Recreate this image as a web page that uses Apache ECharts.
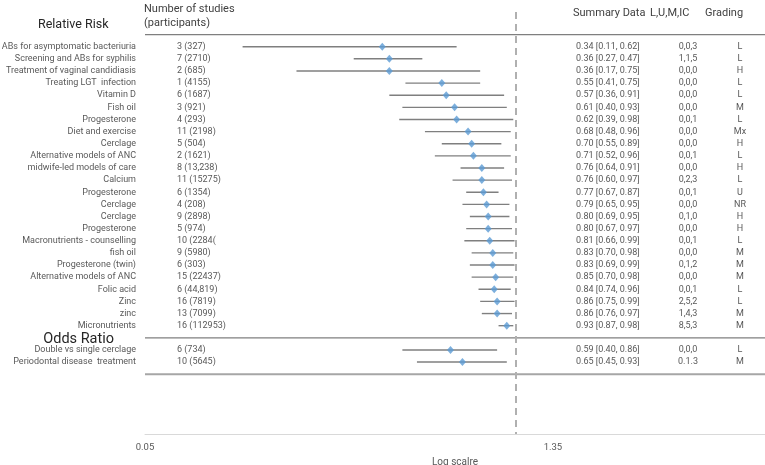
<!DOCTYPE html>
<html><head><meta charset="utf-8">
<script src="https://cdn.jsdelivr.net/npm/echarts@6/dist/echarts.min.js"></script>
<style>html,body{margin:0;padding:0;background:#fff}#c{width:765px;height:465px}</style>
</head><body><div id="c"></div>
<script>
// ---------- data ----------
const groupTitles = ['Relative Risk', 'Odds Ratio'];
const rrNames = ['ABs for asymptomatic bacteriuria','Screening and ABs for syphilis','Treatment of vaginal candidiasis','Treating LGT  infection','Vitamin D','Fish oil','Progesterone','Diet and exercise','Cerclage','Alternative models of ANC','midwife-led models of care','Calcium','Progesterone','Cerclage','Cerclage','Progesterone','Macronutrients - counselling','fish oil','Progesterone (twin)','Alternative models of ANC','Folic acid','Zinc','zinc','Micronutrients'];
const rrStudies = ['3 (327)','7 (2710)','2 (685)','1 (4155)','6 (1687)','3 (921)','4 (293)','11 (2198)','5 (504)','2 (1621)','8 (13,238)','11 (15275)','6 (1354)','4 (208)','9 (2898)','5 (974)','10 (2284(','9 (5980)','6 (303)','15 (22437)','6 (44,819)','16 (7819)','13 (7099)','16 (112953)'];
const rrEst  = [0.34,0.36,0.36,0.55,0.57,0.61,0.62,0.68,0.70,0.71,0.76,0.76,0.77,0.79,0.80,0.80,0.81,0.83,0.83,0.85,0.84,0.86,0.86,0.93];
const rrLow  = [0.11,0.27,0.17,0.41,0.36,0.40,0.39,0.48,0.55,0.52,0.64,0.60,0.67,0.65,0.69,0.67,0.66,0.70,0.69,0.70,0.74,0.75,0.76,0.87];
const rrHigh = [0.62,0.47,0.75,0.75,0.91,0.93,0.98,0.96,0.89,0.96,0.91,0.97,0.87,0.95,0.95,0.97,0.99,0.98,0.99,0.98,0.96,0.99,0.97,0.98];
const rrLUMIC = ['0,0,3','1,1,5','0,0,0','0,0,0','0,0,0','0,0,0','0,0,1','0,0,0','0,0,0','0,0,1','0,0,0','0,2,3','0,0,1','0,0,0','0,1,0','0,0,0','0,0,1','0,0,0','0,1,2','0,0,0','0,0,1','2,5,2','1,4,3','8,5,3'];
const rrGrade = ['L','L','H','L','L','M','L','Mx','H','L','H','L','U','NR','H','H','L','M','M','M','L','L','M','M'];

const orNames = ['Double vs single cerclage','Periodontal disease  treatment'];
const orStudies = ['6 (734)','10 (5645)'];
const orEst  = [0.59,0.65];
const orLow  = [0.40,0.45];
const orHigh = [0.86,0.93];
const orLUMIC = ['0,0,0','0.1.3'];
const orGrade = ['L','M'];

const columnHeaders = ['Number of studies\n(participants)','Summary Data','L,U,M,IC','Grading'];
const xTickLabels = [0.05, 1.35];
const xAxisName = 'Log scalre';
const nullEffect = 1;

// ---------- build rows ----------
const rows = [];
rrNames.forEach((n,i)=>rows.push({name:n,studies:rrStudies[i],est:rrEst[i],lo:rrLow[i],hi:rrHigh[i],lumic:rrLUMIC[i],grade:rrGrade[i]}));
rows.push({header: groupTitles[1]});
orNames.forEach((n,i)=>rows.push({name:n,studies:orStudies[i],est:orEst[i],lo:orLow[i],hi:orHigh[i],lumic:orLUMIC[i],grade:orGrade[i]}));
const rowIdx = rows.map((r,i)=>i);
const fmt = v => v.toFixed(2);
const pointData = [], barData = [];
rows.forEach((r,i)=>{ if(!r.header){ pointData.push([r.est,i]); barData.push([r.lo,r.hi,i]); } });
const headerIdx = rows.findIndex(r=>r.header);
const lastIdx = rows.length;
// table rules: [row position, color, width]
const rules = [[-1,'#7f7f7f',1.3],[headerIdx,'#7f7f7f',1.3],[lastIdx,'#a6a6a6',2]];

// ---------- layout ----------
const FONT = 'Roboto';
const TXT = '#595959';
const Y_MIN = -2.86, Y_MAX = 31.93;

function colAxis(getText, margin, align, inside, rich){
  return {
    type:'value', inverse:true, min:Y_MIN, max:Y_MAX, position:'left',
    axisLine:{show:false}, axisTick:{show:false}, splitLine:{show:false},
    axisLabel:{
      show:true, inside:inside, margin:margin, align:align,
      customValues: rowIdx,
      color:TXT, fontSize:9, fontFamily:FONT,
      formatter: v => { const r = rows[Math.round(v)]; return r ? getText(r) : ''; },
      rich: rich
    }
  };
}

const chart = echarts.init(document.getElementById('c'), null, {renderer:'canvas'});
chart.setOption({
  animation:false,
  backgroundColor:'#fff',
  title:[
    {text:groupTitles[0], left:38, top:18, padding:0, textStyle:{fontFamily:FONT,fontSize:12.5,fontWeight:'normal',color:'#262626'}},
    {text:columnHeaders[0], left:144, top:1.5, padding:0, textStyle:{fontFamily:FONT,fontSize:11,fontWeight:'normal',color:'#404040',lineHeight:14.5}},
    {text:columnHeaders[1], left:573, top:8, padding:0, textStyle:{fontFamily:FONT,fontSize:11,fontWeight:'normal',color:'#404040'}},
    {text:columnHeaders[2], left:650, top:8, padding:0, textStyle:{fontFamily:FONT,fontSize:11,fontWeight:'normal',color:'#404040'}},
    {text:columnHeaders[3], left:705, top:8, padding:0, textStyle:{fontFamily:FONT,fontSize:11,fontWeight:'normal',color:'#404040'}}
  ],
  grid:{left:145, right:0, top:12, bottom:31, containLabel:false, outerBoundsMode:'none'},
  xAxis:{
    type:'log', min:0.05, max:7.49, logBase:10,
    axisLine:{show:true, onZero:false, lineStyle:{color:'#d9d9d9', width:1}},
    axisTick:{show:false}, splitLine:{show:false},
    axisLabel:{customValues:xTickLabels, formatter:v=>fmt(v), color:TXT, fontSize:9.5, fontFamily:FONT, margin:9},
    name:xAxisName, nameLocation:'middle', nameGap:18,
    nameTextStyle:{color:TXT, fontSize:10, fontFamily:FONT}
  },
  yAxis:[
    colAxis(r => r.header ? '{hdr|'+r.header+'}' : r.name, 9, 'right', false, {hdr:{fontSize:14.5, color:'#262626', fontFamily:FONT, padding:[4,22,0,0]}}),
    colAxis(r => r.header ? '' : r.studies, 32, 'left', true),
    colAxis(r => r.header ? '' : fmt(r.est)+' ['+fmt(r.lo)+', '+fmt(r.hi)+']', 431, 'left', true),
    colAxis(r => r.header ? '' : r.lumic, 543, 'center', true),
    colAxis(r => r.header ? '' : r.grade, 595, 'center', true)
  ],
  series:[
    {
      type:'custom', xAxisIndex:0, yAxisIndex:0, silent:true, z:1, clip:false,
      data:rules,
      renderItem:(params, api)=>{
        const cs = params.coordSys;
        const y = api.coord([nullEffect, api.value(0)])[1];
        const r = rules[params.dataIndex];
        return {type:'line', shape:{x1:cs.x, y1:y, x2:cs.x+cs.width, y2:y}, style:{stroke:r[1], lineWidth:r[2]}};
      }
    },
    {
      type:'custom', xAxisIndex:0, yAxisIndex:0, silent:true, z:2,
      data:barData,
      renderItem:(params, api)=>{
        const p1 = api.coord([api.value(0), api.value(2)]);
        const p2 = api.coord([api.value(1), api.value(2)]);
        return {type:'line', shape:{x1:p1[0], y1:p1[1], x2:p2[0], y2:p2[1]}, style:{stroke:'#7f7f7f', lineWidth:1.4}};
      },
      markLine:{
        silent:true, symbol:'none', label:{show:false},
        data:[
          {xAxis:nullEffect, lineStyle:{color:'#b0b0b0', width:2, type:[7,5]}}
        ]
      }
    },
    {
      type:'scatter', xAxisIndex:0, yAxisIndex:0, silent:true, z:3,
      symbol:'diamond', symbolSize:[7,8],
      itemStyle:{color:'#5b9bd5'},
      data:pointData
    }
  ]
});
</script>
</body></html>
